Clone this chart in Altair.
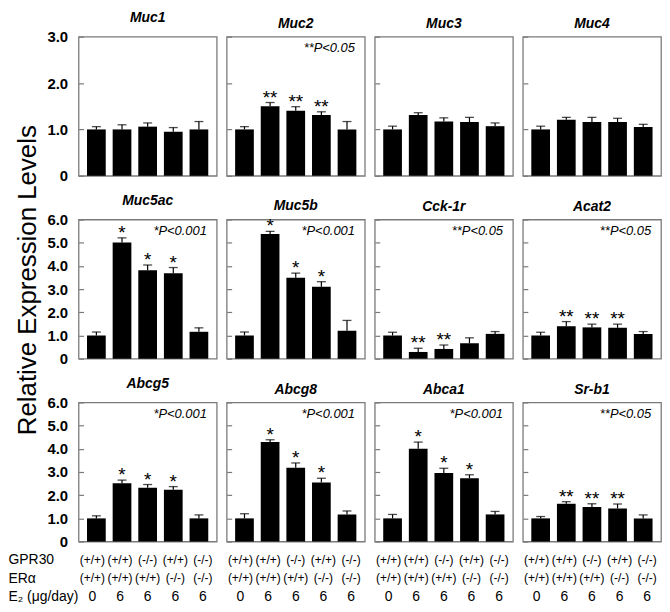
import altair as alt
import pandas as pd

# ---------------- data ----------------
GENES = ["Muc1", "Muc2", "Muc3", "Muc4",
         "Muc5ac", "Muc5b", "Cck-1r", "Acat2",
         "Abcg5", "Abcg8", "Abca1", "Sr-b1"]
GROUPS = ["G1", "G2", "G3", "G4", "G5"]

MEANS = [
    [1.00, 1.00, 1.06, 0.95, 1.00],
    [1.00, 1.50, 1.40, 1.31, 1.00],
    [1.00, 1.31, 1.17, 1.16, 1.07],
    [1.00, 1.21, 1.16, 1.16, 1.05],
    [1.00, 5.01, 3.81, 3.68, 1.16],
    [1.00, 5.38, 3.49, 3.10, 1.20],
    [1.00, 0.29, 0.42, 0.67, 1.07],
    [1.00, 1.40, 1.35, 1.33, 1.07],
    [1.00, 2.52, 2.32, 2.23, 1.00],
    [1.00, 4.29, 3.18, 2.55, 1.17],
    [1.00, 4.00, 2.96, 2.73, 1.17],
    [1.00, 1.63, 1.49, 1.43, 1.00],
]
ERRS = [
    [0.06, 0.10, 0.08, 0.09, 0.17],
    [0.06, 0.08, 0.09, 0.07, 0.17],
    [0.07, 0.05, 0.08, 0.10, 0.07],
    [0.07, 0.05, 0.10, 0.08, 0.06],
    [0.15, 0.20, 0.23, 0.25, 0.17],
    [0.15, 0.11, 0.20, 0.22, 0.45],
    [0.14, 0.16, 0.17, 0.23, 0.10],
    [0.14, 0.20, 0.14, 0.16, 0.10],
    [0.11, 0.13, 0.14, 0.14, 0.15],
    [0.20, 0.10, 0.21, 0.18, 0.15],
    [0.17, 0.29, 0.20, 0.15, 0.13],
    [0.08, 0.09, 0.14, 0.19, 0.15],
]
STARS = [
    ["", "", "", "", ""],
    ["", "**", "**", "**", ""],
    ["", "", "", "", ""],
    ["", "", "", "", ""],
    ["", "*", "*", "*", ""],
    ["", "*", "*", "*", ""],
    ["", "**", "**", "", ""],
    ["", "**", "**", "**", ""],
    ["", "*", "*", "*", ""],
    ["", "*", "*", "*", ""],
    ["", "*", "*", "*", ""],
    ["", "**", "**", "**", ""],
]
PVALUES = ["", "**P<0.05", "", "",
           "*P<0.001", "*P<0.001", "**P<0.05", "**P<0.05",
           "*P<0.001", "*P<0.001", "*P<0.001", "**P<0.05"]
YMAX = [3, 3, 3, 3, 6, 6, 6, 6, 6, 6, 6, 6]

ROW_LABELS = ["GPR30", "ERα", "E₂ (μg/day)"]
GPR30 = ["(+/+)", "(+/+)", "(-/-)", "(+/+)", "(-/-)"]
ERA = ["(+/+)", "(+/+)", "(+/+)", "(-/-)", "(-/-)"]
E2 = ["0", "6", "6", "6", "6"]

YTITLE = "Relative Expression Levels"

# ---------------- style ----------------
FONT = "Liberation Sans"
FRAME = "#7a7a7a"
W, H = 139, 140

xscale = alt.Scale(paddingInner=0.27, paddingOuter=0.33)


def make_panel(i):
    ymax = YMAX[i]
    first = (i % 4 == 0)
    df = pd.DataFrame({"group": GROUPS, "mean": MEANS[i], "err": ERRS[i], "star": STARS[i]})
    df["hi"] = df["mean"] + df["err"]

    x = alt.X("group:N", sort=GROUPS, axis=None, scale=xscale)
    ysc = alt.Scale(domain=[0, ymax], nice=False, zero=True)
    kw = dict(values=list(range(ymax + 1)), offset=-5, tickSize=5, tickColor=FRAME,
              tickWidth=1.2, domain=False, grid=False, labels=first)
    if first:
        kw.update(labelExpr="datum.value == 0 ? '0' : format(datum.value, '.1f')",
                  labelFontSize=15, labelFontWeight="bold", labelColor="black",
                  labelPadding=11)
    axis = alt.Axis(**kw)

    def yenc(field):
        return alt.Y(field, type="quantitative", scale=ysc, axis=axis, title=None)

    base = alt.Chart(df)
    bars = base.mark_bar(color="black").encode(x=x, y=yenc("mean"))
    rule = base.mark_rule(color="black", strokeWidth=1.2).encode(x=x, y=yenc("mean"), y2="hi:Q")
    cap = base.mark_tick(color="black", size=9, thickness=1.3).encode(x=x, y=yenc("hi"))
    stars = base.mark_text(fontSize=19, baseline="alphabetic", dy=1, color="black").encode(
        x=x, y=yenc("hi"), text="star:N")
    layers = [bars, rule, cap, stars]
    if PVALUES[i]:
        pdf = pd.DataFrame({"group": [GROUPS[-1]], "y": [ymax * 0.92], "t": [PVALUES[i]]})
        ptxt = alt.Chart(pdf).mark_text(fontSize=13, fontStyle="italic", align="right",
                                        baseline="middle", dx=8, color="black").encode(
            x=x, y=yenc("y"), text="t:N")
        layers.append(ptxt)
    return alt.layer(*layers).properties(
        width=W, height=H,
        title=alt.TitleParams(GENES[i], fontSize=14, fontStyle="italic", fontWeight="bold",
                              color="black", offset=5, anchor="middle", frame="group"),
    )


def make_table(c):
    df = pd.DataFrame({
        "group": GROUPS * 3,
        "row": [ROW_LABELS[0]] * 5 + [ROW_LABELS[1]] * 5 + [ROW_LABELS[2]] * 5,
        "t": GPR30 + ERA + E2,
    })
    x = alt.X("group:N", sort=GROUPS, axis=None, scale=xscale)
    if c == 0:
        ax = alt.Axis(labelAlign="left", labelPadding=71, domain=False, ticks=False, tickSize=0,
                      labelFontSize=14, labelColor="black", grid=False)
    else:
        ax = None
    y = alt.Y("row:N", sort=ROW_LABELS, title=None,
              scale=alt.Scale(type="point", padding=0.5, domain=ROW_LABELS), axis=ax)
    base = alt.Chart(df)
    geno = base.transform_filter(alt.datum.row != ROW_LABELS[2]).mark_text(
        fontSize=12, color="black").encode(x=x, y=y, text="t:N")
    nums = base.transform_filter(alt.datum.row == ROW_LABELS[2]).mark_text(
        fontSize=14, color="black").encode(x=x, y=y, text="t:N")
    return alt.layer(geno, nums).properties(
        width=W, height=56, view=alt.ViewBackground(strokeOpacity=0))


grid = alt.concat(*[make_panel(i) for i in range(12)], columns=4,
                  spacing={"row": 44, "column": 10}, bounds="flush",
                  title=alt.TitleParams(YTITLE, orient="left", anchor="middle", fontSize=26,
                                        fontWeight="normal", color="black", offset=5))
table = alt.hconcat(*[make_table(c) for c in range(4)], spacing=10, bounds="flush")

chart = alt.vconcat(grid, table, spacing=-13).properties(padding=0).configure(
    font=FONT
).configure_view(stroke=FRAME, strokeWidth=1.3)

chart.save("out.html", embed_options={"renderer": "svg", "actions": False})
